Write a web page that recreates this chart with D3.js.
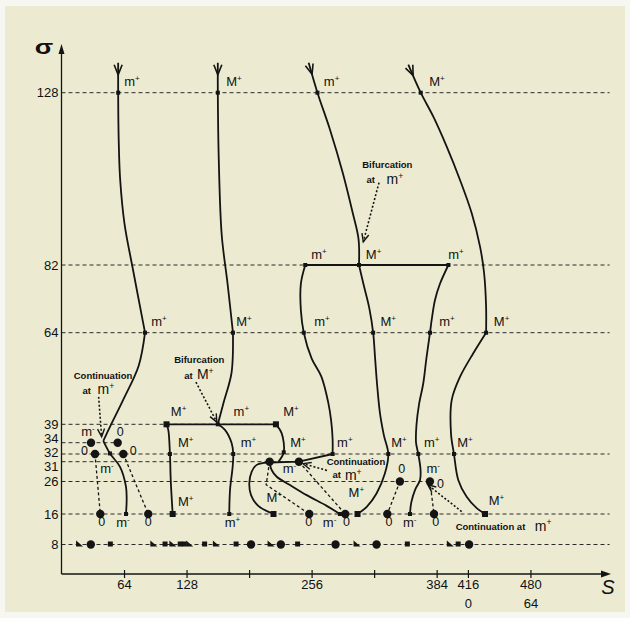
<!DOCTYPE html>
<html><head><meta charset="utf-8">
<script src="https://cdn.jsdelivr.net/npm/d3@7"></script>
<style>
html,body{margin:0;padding:0;background:#f7f7f1;}
svg{display:block;}
text{font-family:"Liberation Sans",Arial,sans-serif;fill:#111;}
</style></head><body>
<svg id="chart" width="630" height="618"></svg>
<script>
// sigma levels (vertical axis) and how far in s each dashed level line runs
const sigmaTicks = [8, 16, 26, 31, 32, 34, 39, 64, 82, 128];
const sigmaLineEnds = [561, 561, 377, 243, 561, 57.5, 219.5, 561, 561, 561];
// s axis ticks with their two label rows
const sTicks = [64, 128, 192, 256, 320, 384, 416, 480];
const sTickLabels = ["64", "128", "", "256", "", "384", "416", "480"];
const sTickLabels2 = ["", "", "", "", "", "", "0", "64"];

// trajectories of the extrema across scale, as [s, sigma]
const c1Upper = [[58,136],[58,128],[58.5,116],[60,105],[64.5,93],[73,81],[85.5,64]];
const c1Middle = [[85.5,64],[79,55],[63,45.6],[49.6,38.3],[42.8,34.5]];
const c1Lower = [[42.8,34.5],[49.6,32.1],[59.9,29.7],[66,24.4],[66.7,20.3],[66,16]];

const c2Upper = [[160,136],[160,128],[161,110],[164,90],[170,77],[175.5,64]];
const c2Middle = [[175.5,64],[174,53],[166,45],[160,39]];
const c2Lower = [[160,39],[167.3,37.5],[174.2,33.9],[175.8,32],[175.2,29.75],[172.5,23.4],[171.7,16]];
const c2Bar = [[107.5,39],[219.5,39]];
const c2Left = [[107.5,39],[109.3,37.5],[111,32],[111.8,26.4],[113.8,16]];
const c2Right = [[219.5,39],[225.3,36.6],[227.5,32.3],[222,31]];

const foldTop = [[213,30.8],[243,31],[277.5,32]];
const foldOuter = [[213,30.8],[207,30.7],[199.8,30.2],[194.7,28.5],[192.2,25.4],[194,21.8],[201.4,18.5],[217,16]];
const foldInner = [[213,30.8],[215.1,28.9],[220.3,27.2],[233.9,24.9],[251,21.8],[271.4,18.5],[285,16]];

const c3Upper = [[253,136],[262,128],[275,118],[288,106.5],[298,96],[304,89],[304.5,82]];
const c3Bar = [[249.5,82],[396,82]];
const c3Left = [[249.5,82],[245,77],[245,70],[248,64],[256,57],[266,52],[273,45],[276,40],[277.5,35],[277.5,32]];
const c3Mid = [[304.5,82],[309,77],[315,70.6],[319,64],[321,57],[323,50],[326,42],[330,36],[334.5,32],[331,28],[322.6,22.4],[312.4,18.2],[303,16]];
const c3Right = [[396,82],[387.4,77],[382.3,72.7],[378.9,67.4],[377.2,64],[373.5,57],[370.3,50.2],[366,44.5],[363.4,39],[362.9,34],[365.2,32],[367.5,29],[367,26.4],[362,23.5],[358,19.5],[356.7,16]];

const c4Upper = [[355,135.5],[367.7,128],[380.6,121.6],[394.3,113.6],[407.9,104.7],[419.9,95.8],[428.4,86.9],[432.5,80],[434.6,71],[434.6,64]];
const c4Lower = [[434.6,64],[421.5,58.4],[408,52],[399.4,45.6],[398.7,36.4],[401.7,32],[406.1,26.4],[414.7,21.3],[425,17.8],[433.5,16]];

// marked points on the trajectories
const smallNodes = [[58,128],[85.5,64],[66,16],[49.6,32.1],[160,128],[175.5,64],[175.8,32],[171.7,16],[111,32],
  [227.5,32.3],[160,39],[285,16],[262,128],[304.5,82],[249.5,82],[248,64],[277.5,32],[319,64],[334.5,32],
  [377.2,64],[365.2,32],[356.7,16],[367.7,128],[434.6,64],[401.7,32],[396,82]];
const bigNodes = [[107.5,39],[113.8,16],[219.5,39],[217,16],[303,16],[433.5,16]];
const zeroDots = [[30.2,34],[57.5,34],[34.3,32],[63.3,32],[39.7,16],[88.8,16],
  [213,31],[243,31],[253.6,16],[290.4,16],[346.4,26],[377.1,26],[333.5,16],[381.3,16]];
const zeroLinks = [
  [[34.3,32],[39.7,16]], [[63.3,32],[88.8,16]],
  [[213,31],[209.5,25],[253.6,16]], [[243,31],[290.4,16]],
  [[346.4,26],[333.5,16]], [[377.1,26],[381.3,16]]
];

// markers along the sigma = 8 level
const level8Tri = [18, 94, 113.5, 130.7, 158, 214, 302, 397.5];
const level8Sq = [50, 106, 121.5, 125.5, 146.5, 178.7, 241.7, 354, 406];
const level8Dot = [30, 194, 224.5, 280.5, 322.5, 417.2];

// point labels: [s, sigma, letter, sign]
const pointLabels = [
  [72.2,131,"m","+"],[176.6,131,"M","+"],[276.5,131,"m","+"],[384.3,131,"M","+"],
  [263.5,84.9,"m","+"],[319.5,84.9,"M","+"],[403.7,84.9,"m","+"],
  [99.8,67.1,"m","+"],[186.8,67.1,"M","+"],[266.6,67.1,"m","+"],[334.5,67.1,"M","+"],[394.6,67.1,"m","+"],[450.5,67.1,"M","+"],
  [119.9,42.4,"M","+"],[184.1,42.4,"m","+"],[234.9,42.4,"M","+"],
  [127.2,34,"M","+"],[191.4,34,"m","+"],[242,34,"M","+"],[290,34,"m","+"],[345.5,34,"M","+"],[379,34,"m","+"],[413,34,"M","+"],
  [127.2,20,"M","+"],[217.7,21.2,"M","+"],[301.8,22.5,"M","+"],[445.3,20.3,"M","+"],
  [27.1,37,"m","-"],[46.6,29.2,"m","-"],[233.4,29.2,"m","-"],[380.5,29.2,"m","-"],
  [62.9,13.9,"m","-"],[274.4,13.9,"m","-"],[356.5,13.9,"m","-"],[175,13.9,"m","+"]
];
const zeroLabels = [[60.1,37],[23.5,32.6],[73.3,32.6],[348.2,29.2],[388,25.4],
  [41.2,13.9],[88.8,13.9],[253,13.9],[291.6,13.9],[335.2,13.9],[383,13.9]];

// annotations
const noteWords = [[42.5,52.3,"Continuation"],[25.8,48.2,"at"],[141,56.6,"Bifurcation"],[129.9,52.3,"at"],
  [333.5,108.9,"Bifurcation"],[316.5,104.7,"at"],[301.4,31.0,"Continuation"],[281.7,27.6,"at"],[439.1,12.7,"Continuation at"]];
const noteSymbols = [[45.5,48.6,"m","+"],[147.2,52.6,"M","+"],[341.3,104.9,"m","+"],[298.7,27.6,"m","+"],[493.1,12.9,"m","+"]];
const noteArrows = [
  [[38,46.5],[41.1,35.6]],
  [[137.6,50.5],[159,39.6]],
  [[325,104],[308.9,88.2]],
  [[271.7,28.8],[247.3,30.5]],
  [[409.6,16.7],[375,25]]
];

const svg = d3.select("#chart");
svg.append("rect").attr("x",5).attr("y",6).attr("width",620).attr("height",606).attr("fill","#ecebd1");

const x = d3.scaleLinear().domain([0, 560]).range([61.5, 608.6]);
const y = d3.scaleLinear()
  .domain([0, ...sigmaTicks])
  .range([574, 544.5, 514, 481.5, 461.7, 454, 442.7, 424.3, 332.7, 265, 92.7]);

const ink = "#141414";

// dashed sigma level lines
svg.append("g").selectAll("line").data(sigmaTicks).join("line")
  .attr("x1", x(0)).attr("x2", (d,i) => x(sigmaLineEnds[i]))
  .attr("y1", d => y(d)).attr("y2", d => y(d))
  .attr("stroke", "#2a2a2a").attr("stroke-width", 1).attr("stroke-dasharray", "4,3");

// axes
const xAxisG = svg.append("g").attr("transform", `translate(0,${y(0)})`)
  .call(d3.axisBottom(x).tickValues(sTicks).tickSize(4).tickPadding(2).tickFormat((d,i) => sTickLabels[i]));
xAxisG.select(".domain").remove();
xAxisG.selectAll(".tick line").attr("y1", -4).attr("y2", 4).attr("stroke", ink).attr("stroke-width", 1.2);
xAxisG.selectAll(".tick text").attr("font-size", 13).attr("font-family", "Liberation Sans, Arial, sans-serif").attr("fill", ink);
xAxisG.selectAll(".tick").append("text").attr("y", 25).attr("dy", "0.71em")
  .attr("font-size", 13).attr("fill", ink).attr("text-anchor", "middle")
  .text((d,i) => sTickLabels2[i]);

// crowded sigma labels are nudged apart from their level lines
const labelNudge = {34: -4.5, 32: -2, 31: 4.5};
const yAxisG = svg.append("g").attr("transform", `translate(${x(0)},0)`)
  .call(d3.axisLeft(y).tickValues(sigmaTicks).tickSize(0).tickPadding(3));
yAxisG.select(".domain").remove();
yAxisG.selectAll(".tick text").attr("font-size", 13).attr("font-family", "Liberation Sans, Arial, sans-serif")
  .attr("fill", ink).attr("y", d => labelNudge[d] || 0);

// axis lines with arrow heads
svg.append("line").attr("x1", x(0)).attr("x2", 606).attr("y1", y(0)).attr("y2", y(0)).attr("stroke", ink).attr("stroke-width", 1.3);
svg.append("path").attr("d", `M611,${y(0)}L601,${y(0)-3.5}L601,${y(0)+3.5}Z`).attr("fill", ink);
svg.append("line").attr("x1", x(0)).attr("x2", x(0)).attr("y1", y(0)).attr("y2", 50).attr("stroke", ink).attr("stroke-width", 1.3);
svg.append("path").attr("d", `M${x(0)},44L${x(0)-3},54L${x(0)+3},54Z`).attr("fill", ink);
svg.append("text").attr("x", 608).attr("y", 594).attr("font-size", 20).attr("font-style", "italic")
  .attr("text-anchor", "middle").text("S");
svg.append("text").attr("transform", "translate(44,54) scale(1.35,1)").attr("font-size", 20).attr("font-weight", "bold")
  .attr("text-anchor", "middle").text("σ");

// trajectories
const smooth = d3.line().x(d => x(d[0])).y(d => y(d[1])).curve(d3.curveCatmullRom.alpha(0.5));
const straight = d3.line().x(d => x(d[0])).y(d => y(d[1]));
const curves = [c1Upper, c1Middle, c1Lower, c2Upper, c2Middle, c2Lower, c2Left, c2Right,
  foldOuter, foldInner, c3Upper, c3Left, c3Mid, c3Right, c4Upper, c4Lower];
svg.append("g").selectAll("path").data(curves).join("path")
  .attr("d", smooth).attr("fill", "none").attr("stroke", ink).attr("stroke-width", 1.8);
svg.append("g").selectAll("path").data([c2Bar, c3Bar, foldTop]).join("path")
  .attr("d", straight).attr("fill", "none").attr("stroke", ink).attr("stroke-width", 1.8);

// downward arrow heads where trajectories enter from coarse scale
function openHead(p0, p1, back, len, half) {
  const dx = p1[0]-p0[0], dy = p1[1]-p0[1], n = Math.hypot(dx, dy);
  const ux = dx/n, uy = dy/n, tx = p0[0]+ux*back, ty = p0[1]+uy*back;
  const bx = tx-ux*len, by = ty-uy*len;
  return `M${bx-uy*half},${by+ux*half}L${tx},${ty}L${bx+uy*half},${by-ux*half}`;
}
[c1Upper, c2Upper, c3Upper, c4Upper].forEach(c => {
  const p0 = [x(c[0][0]), y(c[0][1])], p1 = [x(c[1][0]), y(c[1][1])];
  svg.append("path").attr("d", openHead(p0, p1, 12, 10, 4)).attr("fill", "none")
    .attr("stroke", ink).attr("stroke-width", 1.6);
});

// zero-crossing links
svg.append("g").selectAll("path").data(zeroLinks).join("path")
  .attr("d", straight).attr("fill", "none").attr("stroke", ink).attr("stroke-width", 1.3).attr("stroke-dasharray", "3,2.5");

// annotation arrows
noteArrows.forEach(a => {
  const p0 = [x(a[0][0]), y(a[0][1])], p1 = [x(a[1][0]), y(a[1][1])];
  svg.append("line").attr("x1", p0[0]).attr("y1", p0[1]).attr("x2", p1[0]).attr("y2", p1[1])
    .attr("stroke", ink).attr("stroke-width", 1.6).attr("stroke-dasharray", "2,2");
  const dx = p1[0]-p0[0], dy = p1[1]-p0[1], n = Math.hypot(dx, dy);
  svg.append("path").attr("d", openHead([p1[0]-dx/n*20, p1[1]-dy/n*20], p1, 20, 8, 3.5))
    .attr("fill", "none").attr("stroke", ink).attr("stroke-width", 1.4);
});

// markers
svg.append("g").selectAll("rect").data(smallNodes).join("rect")
  .attr("x", d => x(d[0])-2).attr("y", d => y(d[1])-2).attr("width", 4).attr("height", 4).attr("fill", ink);
svg.append("g").selectAll("rect").data(bigNodes).join("rect")
  .attr("x", d => x(d[0])-3).attr("y", d => y(d[1])-3).attr("width", 6).attr("height", 6).attr("fill", ink);
svg.append("g").selectAll("circle").data(zeroDots).join("circle")
  .attr("cx", d => x(d[0])).attr("cy", d => y(d[1])).attr("r", 4.2).attr("fill", ink);

const y8 = y(8);
svg.append("g").selectAll("path").data(level8Tri).join("path")
  .attr("d", d => `M${x(d)-3},${y8-4}L${x(d)-3},${y8+2}L${x(d)+4},${y8+2}Z`).attr("fill", ink);
svg.append("g").selectAll("rect").data(level8Sq).join("rect")
  .attr("x", d => x(d)-2.5).attr("y", y8-3).attr("width", 5).attr("height", 5).attr("fill", ink);
svg.append("g").selectAll("circle").data(level8Dot).join("circle")
  .attr("cx", d => x(d)).attr("cy", y8).attr("r", 4.2).attr("fill", ink);

// labels
function symbolLabel(sel, size) {
  sel.attr("text-anchor", "middle").attr("dy", "0.35em").attr("font-size", size);
  sel.append("tspan").text(d => d[2]);
  sel.append("tspan").attr("dy", -size*0.38).attr("font-size", size*0.62).text(d => d[3]);
}
svg.append("g").selectAll("text").data(pointLabels).join("text")
  .attr("x", d => x(d[0])).attr("y", d => y(d[1])).call(symbolLabel, 13);
svg.append("g").selectAll("text").data(zeroLabels).join("text")
  .attr("x", d => x(d[0])).attr("y", d => y(d[1])).attr("dy", "0.35em")
  .attr("text-anchor", "middle").attr("font-size", 12.5).text("0");
svg.append("g").selectAll("text").data(noteWords).join("text")
  .attr("x", d => x(d[0])).attr("y", d => y(d[1])).attr("dy", "0.35em")
  .attr("text-anchor", "middle").attr("font-size", 9.5).attr("font-weight", "bold").text(d => d[2]);
svg.append("g").selectAll("text").data(noteSymbols).join("text")
  .attr("x", d => x(d[0])).attr("y", d => y(d[1])).call(symbolLabel, 14);
</script>
</body></html>
